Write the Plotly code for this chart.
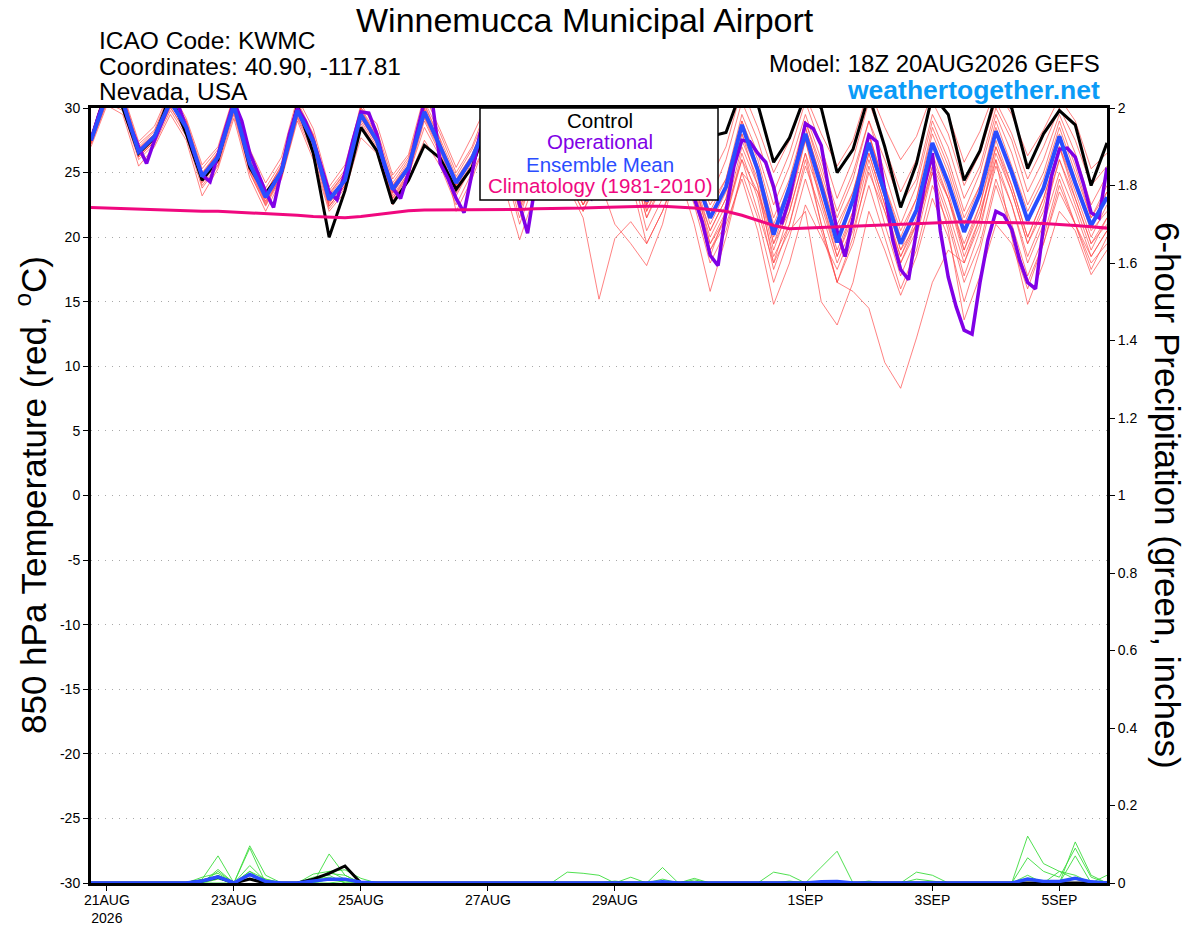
import pandas as pd
import plotly.graph_objects as go

# ---------------- DATA ----------------
start_time = "2026-08-20 18:00"
n_6h = 65
n_3h = 129

tick_dates = ["2026-08-21", "2026-08-23", "2026-08-25", "2026-08-27",
              "2026-08-29", "2026-09-01", "2026-09-03", "2026-09-05"]
tick_labels = ["21AUG<br>2026", "23AUG", "25AUG", "27AUG", "29AUG", "1SEP", "3SEP", "5SEP"]
temp_ticks = [-30, -25, -20, -15, -10, -5, 0, 5, 10, 15, 20, 25, 30]
temp_tick_labels = ["-30", "-25", "-20", "-15", "-10", "-5", "0", "5", "10", "15", "20", "25", "30"]
precip_ticks = [0, 0.2, 0.4, 0.6, 0.8, 1.0, 1.2, 1.4, 1.6, 1.8, 2.0]
precip_tick_labels = ["0", "0.2", "0.4", "0.6", "0.8", "1", "1.2", "1.4", "1.6", "1.8", "2"]

control_t = [27.5, 31.5, 30.0, 26.5, 27.7, 31.0, 28.0, 24.4, 26.0, 30.5,
             25.4, 23.4, 25.0, 30.2, 26.5, 20.0, 23.6, 28.5, 26.7, 22.6,
             24.4, 27.1, 26.1, 23.7, 25.4, 29.0, 27.0, 22.9, 27.0, 29.5,
             27.0, 24.5, 27.0, 29.5, 28.0, 25.5, 27.0, 30.0, 28.5, 27.8,
             28.1, 31.5, 30.3, 25.8, 27.7, 31.0, 30.0, 25.0, 26.8, 31.0,
             27.0, 22.3, 25.7, 31.0, 29.5, 24.4, 26.7, 31.0, 30.0, 25.3,
             28.0, 29.8, 28.7, 24.0, 27.3]

mean_t = [27.5, 31.0, 30.5, 26.6, 27.8, 30.5, 28.5, 24.7, 26.2, 30.2,
          25.7, 23.1, 25.1, 29.8, 27.4, 22.9, 24.4, 29.5, 27.5, 23.7,
          25.4, 29.7, 27.0, 24.2, 26.1, 29.0, 27.0, 23.0, 26.5, 28.5,
          26.0, 23.5, 26.0, 28.5, 27.0, 22.8, 25.5, 28.5, 25.0, 21.5,
          23.9, 28.7, 25.2, 20.2, 23.9, 28.0, 23.9, 19.6, 22.9, 27.3,
          23.4, 19.5, 22.1, 27.3, 24.2, 20.4, 23.4, 28.2, 25.0, 21.3,
          23.8, 27.8, 24.2, 20.9, 23.1]

climo_t = [22.3, 22.25, 22.2, 22.15, 22.1, 22.05, 22.0, 22.0, 22.0, 21.95,
           21.9, 21.85, 21.8, 21.7, 21.6, 21.55, 21.5, 21.6, 21.75, 21.9,
           22.05, 22.1, 22.1, 22.1, 22.1, 22.1, 22.1, 22.15, 22.2, 22.2,
           22.25, 22.25, 22.3, 22.35, 22.4, 22.4, 22.4, 22.35, 22.25, 22.15,
           22.0, 21.7, 21.3, 20.9, 20.65, 20.7, 20.75, 20.8, 20.85, 20.9,
           20.95, 21.0, 21.1, 21.15, 21.2, 21.2, 21.15, 21.15, 21.1, 21.1,
           21.05, 21.0, 20.9, 20.8, 20.7]

# operational run (3-hourly)
oper_t = [27.5, 29.5, 31.0, 31.0, 30.5, 28.5, 27.0, 25.7, 27.5, 29.0,
          30.5, 30.2, 28.5, 26.5, 24.8, 24.3, 26.5, 28.5, 30.5, 29.0,
          26.5, 25.0, 23.5, 22.3, 25.0, 28.0, 30.0, 29.0, 27.5, 25.5,
          23.5, 22.9, 25.0, 27.5, 29.7, 29.6, 28.0, 25.5, 23.8, 23.0,
          25.0, 28.0, 30.5, 30.5, 25.7, 24.5, 23.0, 21.9, 25.0, 28.0,
          30.0, 29.5, 27.5, 25.0, 22.5, 20.3, 24.0, 28.0, 30.2, 29.0,
          27.0, 25.0, 23.5, 23.0, 25.5, 28.5, 30.2, 30.0, 27.5, 25.0,
          23.0, 23.5, 25.5, 28.0, 29.5, 27.0, 23.0, 21.2, 18.6, 17.8,
          22.0, 25.5, 27.5, 27.4, 26.5, 25.8, 23.9, 21.0, 23.0, 26.0,
          28.8, 28.4, 27.1, 23.5, 20.5, 18.5, 21.5, 25.5, 27.9, 27.4,
          23.5, 19.8, 17.5, 16.7, 20.5, 24.0, 26.5, 20.5, 16.9, 14.6,
          12.8, 12.5, 16.5, 19.8, 22.0, 21.7, 20.6, 18.2, 16.5, 16.0,
          20.8, 24.7, 26.8, 26.9, 26.2, 24.2, 21.9, 21.5, 25.4]

ens_t01 = [27.8, 31.8, 31.0, 27.2, 28.3, 31.2, 29.0, 25.3, 26.8, 30.8,
           26.3, 23.8, 25.8, 30.5, 28.0, 23.6, 25.2, 30.3, 28.3, 24.5,
           26.2, 30.5, 28.0, 25.0, 27.0, 30.2, 28.0, 24.3, 27.5, 30.0,
           27.5, 24.5, 27.0, 30.0, 28.5, 24.5, 27.0, 30.5, 28.0, 24.5,
           27.0, 31.5, 28.5, 25.0, 27.5, 31.0, 28.0, 25.5, 27.5, 31.5,
           28.5, 26.0, 27.8, 31.2, 29.5, 25.8, 28.2, 31.5, 29.5, 26.3,
           28.3, 30.8, 29.0, 25.3, 26.5]
ens_t02 = [27.3, 30.6, 30.0, 26.3, 27.5, 30.0, 28.2, 24.3, 25.8, 29.8,
           25.3, 22.7, 24.8, 29.4, 27.0, 22.4, 24.0, 29.0, 27.0, 23.2,
           25.0, 29.2, 26.6, 23.6, 25.8, 28.6, 26.5, 22.5, 26.0, 28.0,
           25.5, 23.0, 25.5, 28.0, 26.5, 22.5, 25.0, 28.0, 25.0, 22.0,
           24.5, 29.5, 26.5, 22.5, 25.5, 29.5, 26.0, 22.0, 25.0, 29.0,
           26.0, 22.5, 24.5, 29.5, 27.0, 23.0, 25.5, 30.0, 27.5, 23.5,
           26.0, 29.5, 26.5, 22.5, 24.8]
ens_t03 = [27.6, 31.2, 30.6, 26.9, 28.0, 30.8, 28.8, 24.9, 26.4, 30.4,
           25.9, 23.4, 25.4, 30.0, 27.6, 23.2, 24.8, 29.8, 27.8, 24.0,
           25.6, 30.0, 27.3, 24.5, 26.4, 29.3, 27.3, 23.4, 26.8, 29.0,
           26.3, 23.8, 26.3, 29.0, 27.3, 23.4, 26.0, 29.0, 26.0, 21.5,
           24.0, 29.0, 25.5, 20.5, 24.0, 28.5, 24.5, 20.5, 23.5, 28.0,
           24.0, 20.0, 23.0, 28.0, 25.0, 21.0, 24.0, 29.0, 25.5, 22.0,
           24.5, 28.5, 25.0, 21.5, 23.5]
ens_t04 = [27.2, 30.4, 29.8, 26.0, 27.2, 29.8, 27.8, 23.8, 25.5, 29.5,
           25.0, 22.4, 24.6, 29.2, 26.4, 22.2, 23.8, 28.8, 26.8, 22.8,
           24.8, 29.0, 26.4, 23.4, 25.5, 28.4, 26.4, 22.2, 25.5, 28.0,
           25.2, 22.5, 25.2, 28.0, 26.0, 21.5, 24.5, 27.5, 24.0, 20.0,
           22.5, 28.0, 24.0, 19.0, 22.5, 27.5, 22.5, 18.5, 21.5, 26.5,
           22.5, 18.5, 21.0, 26.5, 23.0, 19.0, 22.5, 27.5, 24.0, 20.0,
           23.0, 27.0, 23.5, 20.0, 22.5]
ens_t05 = [27.9, 31.5, 31.2, 27.4, 28.6, 31.4, 29.2, 25.6, 27.0, 31.0,
           26.8, 24.2, 26.2, 30.8, 28.4, 23.9, 25.6, 30.0, 28.8, 24.8,
           26.4, 31.0, 28.3, 25.4, 27.8, 30.4, 28.2, 24.0, 27.2, 29.6,
           26.8, 23.5, 26.0, 29.0, 27.5, 22.0, 24.5, 27.0, 24.0, 19.0,
           21.5, 26.5, 23.0, 17.5, 21.0, 26.0, 21.0, 16.5, 20.0, 25.5,
           21.0, 17.0, 20.0, 25.0, 21.5, 17.0, 20.5, 26.0, 22.5, 18.5,
           21.5, 26.0, 22.5, 19.0, 21.5]
ens_t06 = [27.0, 30.2, 29.5, 25.5, 27.0, 29.5, 27.5, 23.2, 25.3, 29.2,
           24.6, 22.0, 24.5, 29.0, 26.0, 22.0, 23.5, 27.7, 26.5, 22.5,
           24.5, 27.5, 25.5, 22.5, 25.0, 27.5, 25.5, 21.0, 24.5, 27.0,
           24.5, 22.0, 24.5, 27.0, 25.5, 20.5, 23.0, 26.0, 22.5, 18.0,
           20.5, 25.0, 21.5, 16.5, 20.0, 24.5, 20.5, 16.5, 19.5, 24.0,
           20.0, 16.0, 19.0, 24.0, 21.0, 16.5, 19.5, 24.5, 21.0, 17.0,
           20.0, 24.5, 21.0, 17.5, 20.0]
ens_t07 = [27.4, 31.0, 30.3, 26.4, 27.6, 30.3, 28.4, 24.6, 26.0, 30.0,
           25.5, 23.0, 25.0, 29.6, 27.2, 22.7, 24.2, 29.3, 27.4, 23.5,
           25.2, 29.5, 27.0, 24.0, 26.0, 29.0, 26.8, 22.8, 26.4, 28.6,
           26.0, 23.2, 25.8, 28.4, 26.6, 22.6, 25.2, 28.0, 24.5, 20.5,
           23.0, 27.5, 24.5, 19.5, 22.0, 26.5, 21.0, 16.5, 15.8, 14.5,
           10.3, 8.3, 12.2, 16.5, 19.0, 18.0, 21.5, 26.5, 23.5, 19.5,
           22.0, 26.0, 23.0, 19.5, 21.0]
ens_t08 = [27.6, 31.4, 30.8, 26.2, 27.4, 30.6, 28.6, 24.0, 25.6, 30.0,
           25.0, 22.5, 24.8, 29.6, 27.0, 22.4, 24.0, 29.5, 27.2, 23.0,
           25.0, 29.8, 27.2, 23.8, 26.0, 29.2, 27.0, 22.8, 26.5, 28.5,
           26.0, 23.0, 26.0, 28.6, 27.0, 22.0, 25.0, 28.0, 24.5, 19.5,
           22.0, 26.0, 22.0, 18.0, 20.5, 22.0, 15.0, 13.2, 16.5, 22.0,
           19.0, 15.5, 18.5, 23.0, 20.0, 15.0, 19.0, 24.0, 20.5, 16.5,
           19.5, 24.0, 21.0, 18.0, 19.5]
ens_t09 = [27.5, 30.8, 30.2, 26.8, 28.0, 30.8, 28.4, 24.8, 26.6, 30.6,
           25.8, 23.2, 25.3, 30.2, 27.8, 23.0, 24.6, 29.6, 27.6, 23.8,
           25.4, 29.8, 27.0, 24.4, 26.4, 29.5, 27.0, 23.5, 26.8, 29.0,
           26.0, 23.5, 26.0, 28.5, 26.5, 22.5, 24.5, 27.5, 23.5, 19.0,
           21.0, 24.5, 20.5, 14.8, 18.0, 22.5, 20.0, 17.5, 20.5, 25.0,
           22.0, 18.5, 21.5, 26.0, 23.0, 19.5, 22.5, 27.0, 23.5, 19.5,
           22.5, 27.0, 24.0, 20.5, 22.0]
ens_t10 = [27.3, 30.8, 30.4, 26.5, 27.7, 30.4, 28.3, 24.5, 26.2, 30.3,
           25.6, 23.0, 25.0, 29.9, 27.5, 22.8, 24.4, 29.4, 27.3, 23.6,
           25.3, 29.6, 26.8, 24.0, 26.0, 28.8, 26.8, 22.2, 26.0, 28.0,
           25.5, 22.5, 25.0, 27.5, 24.5, 19.5, 22.0, 25.0, 21.0, 15.8,
           20.0, 25.0, 23.5, 20.0, 23.5, 28.5, 24.5, 20.0, 23.0, 28.0,
           24.0, 20.5, 23.0, 28.5, 25.5, 21.5, 24.0, 28.5, 25.0, 21.0,
           24.0, 28.0, 24.5, 21.0, 23.5]
ens_t11 = [27.7, 31.3, 30.7, 26.7, 27.9, 30.7, 28.7, 24.8, 26.3, 30.3,
           25.8, 23.3, 25.2, 29.9, 27.4, 23.0, 24.6, 29.7, 27.6, 23.9,
           25.5, 29.9, 27.2, 24.4, 26.2, 29.2, 27.2, 23.4, 26.6, 28.8,
           26.2, 23.8, 26.2, 28.8, 27.2, 23.2, 25.8, 28.8, 25.5, 22.5,
           24.5, 29.0, 26.0, 21.5, 24.5, 29.0, 25.0, 21.0, 23.5, 28.0,
           23.5, 19.0, 21.0, 25.0, 20.5, 13.6, 17.0, 21.0, 19.5, 16.0,
           19.5, 23.5, 21.0, 18.5, 20.5]
ens_t12 = [27.4, 30.9, 30.2, 26.4, 27.6, 30.3, 28.4, 24.6, 26.1, 30.1,
           25.6, 23.0, 25.0, 29.7, 27.3, 22.8, 24.3, 29.2, 27.2, 23.4,
           25.2, 29.3, 26.8, 24.0, 26.0, 28.8, 26.8, 22.6, 26.2, 28.4,
           25.8, 23.2, 25.8, 28.2, 26.8, 22.8, 25.3, 28.3, 25.0, 21.0,
           23.5, 28.0, 25.0, 19.5, 23.0, 27.5, 23.0, 18.5, 22.0, 27.0,
           23.0, 19.0, 22.0, 27.0, 23.5, 19.0, 22.0, 26.0, 20.0, 14.8,
           18.0, 22.0, 20.5, 17.1, 19.0]
ens_t13 = [27.6, 31.1, 30.5, 26.7, 27.9, 30.6, 28.6, 24.9, 26.5, 30.5,
           26.0, 23.5, 25.5, 30.3, 27.9, 23.4, 25.0, 30.0, 28.0, 24.2,
           26.0, 30.3, 27.6, 24.7, 26.8, 29.8, 27.6, 23.8, 27.0, 29.4,
           26.8, 24.2, 26.8, 29.4, 27.8, 24.0, 26.5, 29.5, 27.0, 23.0,
           26.0, 30.5, 27.5, 23.5, 26.5, 30.5, 27.0, 23.0, 26.0, 30.5,
           27.0, 23.5, 26.0, 30.5, 28.0, 24.0, 26.5, 30.5, 28.0, 24.5,
           27.0, 30.0, 27.5, 24.0, 25.5]
ens_t14 = [27.5, 31.1, 30.5, 26.5, 27.7, 30.5, 28.5, 24.6, 26.1, 30.0,
           25.5, 22.8, 24.9, 29.6, 27.2, 22.6, 24.2, 29.2, 27.3, 23.4,
           25.3, 29.4, 26.9, 24.0, 26.0, 29.0, 26.5, 22.0, 25.0, 26.5,
           24.0, 21.5, 15.2, 19.9, 21.2, 19.5, 22.0, 25.5, 23.5, 19.5,
           21.5, 26.0, 23.5, 18.5, 21.0, 25.5, 22.0, 18.0, 21.0, 26.0,
           22.0, 18.0, 20.5, 25.5, 22.0, 18.0, 21.0, 25.5, 22.5, 18.0,
           21.0, 25.0, 22.0, 18.5, 20.5]
ens_t15 = [27.2, 30.5, 30.0, 26.2, 27.4, 30.1, 28.0, 24.2, 25.8, 29.7,
           25.2, 22.6, 24.7, 29.3, 26.8, 22.4, 24.0, 28.5, 26.8, 23.0,
           24.8, 28.5, 26.2, 23.2, 25.5, 28.2, 26.0, 21.5, 25.5, 28.0,
           25.0, 22.5, 24.5, 21.0, 19.5, 17.8, 21.0, 26.0, 23.0, 18.5,
           22.0, 27.0, 24.0, 18.0, 22.0, 26.5, 23.0, 19.0, 22.0, 26.5,
           22.5, 18.0, 21.0, 25.5, 23.0, 18.5, 21.5, 27.0, 24.0, 20.0,
           23.0, 27.0, 23.0, 19.5, 21.5]
ens_t16 = [27.8, 31.6, 31.0, 27.0, 28.2, 31.0, 29.0, 25.0, 26.6, 30.6,
           26.0, 23.4, 25.6, 30.4, 27.8, 23.3, 25.0, 29.9, 27.8, 24.0,
           25.8, 30.2, 27.5, 22.0, 24.5, 27.8, 24.0, 19.8, 23.5, 27.0,
           24.5, 22.0, 25.0, 28.0, 26.0, 21.5, 24.0, 27.5, 24.0, 20.5,
           23.0, 28.5, 25.5, 21.0, 24.0, 29.0, 25.5, 21.5, 24.5, 29.0,
           25.0, 21.0, 24.0, 29.0, 26.0, 22.0, 25.0, 29.5, 26.5, 22.5,
           25.0, 29.0, 25.5, 21.5, 24.0]

# 6-hour precipitation (inches)
control_p = [0, 0, 0, 0, 0, 0, 0, 0.005, 0.015, 0,
             0.01, 0, 0, 0, 0.01, 0.025, 0.044, 0, 0, 0,
             0, 0, 0, 0, 0, 0, 0, 0, 0, 0,
             0, 0, 0, 0, 0, 0, 0, 0, 0, 0,
             0, 0, 0, 0, 0, 0, 0, 0, 0, 0,
             0, 0, 0, 0, 0, 0, 0, 0, 0, 0,
             0, 0, 0, 0, 0]
mean_p = [0, 0, 0, 0, 0, 0, 0, 0.005, 0.016, 0,
          0.022, 0.004, 0, 0, 0.005, 0.01, 0.01, 0.002, 0, 0,
          0, 0, 0, 0, 0, 0, 0, 0, 0, 0,
          0.002, 0.002, 0, 0, 0, 0, 0.003, 0, 0, 0,
          0, 0, 0, 0.002, 0, 0, 0.003, 0.004, 0, 0,
          0, 0, 0.002, 0, 0, 0, 0, 0, 0, 0.01,
          0.004, 0.004, 0.012, 0.003, 0]
ens_p01 = [0, 0, 0, 0, 0, 0, 0, 0.01, 0.07, 0,
           0.03, 0.01, 0, 0, 0, 0.075, 0.02, 0, 0, 0,
           0, 0, 0, 0, 0, 0, 0, 0, 0, 0,
           0, 0, 0, 0, 0, 0, 0.04, 0, 0, 0,
           0, 0, 0, 0, 0, 0, 0.041, 0.082, 0, 0,
           0, 0, 0, 0, 0, 0, 0, 0, 0, 0.121,
           0.05, 0.03, 0.02, 0, 0]
ens_p02 = [0, 0, 0, 0, 0, 0, 0, 0, 0.035, 0,
           0.096, 0.02, 0, 0, 0.023, 0.03, 0.034, 0.012, 0, 0,
           0, 0, 0, 0, 0, 0, 0, 0, 0, 0,
           0.028, 0.025, 0.02, 0, 0, 0, 0, 0, 0, 0,
           0, 0, 0, 0, 0, 0, 0, 0, 0, 0,
           0, 0, 0, 0, 0, 0, 0, 0, 0, 0,
           0, 0, 0.106, 0.02, 0]
ens_p03 = [0, 0, 0, 0, 0, 0, 0, 0, 0.03, 0,
           0.09, 0, 0, 0, 0, 0.025, 0.02, 0, 0, 0,
           0, 0, 0, 0, 0, 0, 0, 0, 0, 0,
           0, 0, 0, 0, 0.015, 0, 0, 0, 0, 0,
           0, 0, 0, 0.028, 0.02, 0, 0, 0, 0, 0,
           0, 0, 0, 0, 0, 0, 0, 0, 0, 0.065,
           0.03, 0.015, 0.09, 0.015, 0]
ens_p04 = [0, 0, 0, 0, 0, 0, 0, 0.015, 0.025, 0,
           0.045, 0.005, 0, 0, 0.015, 0.02, 0, 0, 0, 0,
           0, 0, 0, 0, 0, 0, 0, 0, 0, 0,
           0, 0, 0, 0, 0, 0, 0, 0, 0, 0,
           0, 0, 0, 0, 0, 0, 0, 0, 0, 0,
           0, 0, 0.028, 0.02, 0, 0, 0, 0, 0, 0,
           0, 0, 0.07, 0, 0.02]
ens_p05 = [0, 0, 0, 0, 0, 0, 0, 0, 0.02, 0,
           0.02, 0, 0, 0, 0, 0.03, 0.01, 0, 0, 0,
           0, 0, 0, 0, 0, 0, 0, 0, 0, 0,
           0, 0, 0, 0, 0, 0, 0.01, 0, 0.012, 0,
           0, 0, 0, 0, 0, 0, 0, 0, 0, 0,
           0, 0, 0, 0, 0, 0, 0, 0, 0, 0,
           0, 0.03, 0.01, 0, 0]
ens_p06 = [0, 0, 0, 0, 0, 0, 0, 0.005, 0.012, 0,
           0.03, 0, 0, 0, 0.01, 0.015, 0, 0, 0, 0,
           0, 0, 0, 0, 0, 0, 0, 0, 0, 0,
           0, 0, 0, 0, 0, 0, 0, 0, 0, 0,
           0, 0, 0, 0, 0, 0, 0, 0, 0, 0,
           0, 0, 0.01, 0.005, 0, 0, 0, 0, 0, 0.02,
           0, 0, 0, 0, 0]
ens_p07 = [0, 0, 0, 0, 0, 0, 0, 0, 0.01, 0,
           0.01, 0, 0, 0, 0, 0.01, 0.01, 0, 0, 0,
           0, 0, 0, 0, 0, 0, 0, 0, 0, 0,
           0, 0, 0, 0, 0, 0, 0, 0, 0.008, 0,
           0, 0, 0, 0, 0.005, 0, 0, 0, 0, 0,
           0, 0, 0, 0, 0, 0, 0, 0, 0, 0,
           0, 0, 0, 0, 0]
ens_p08 = [0, 0, 0, 0, 0, 0, 0, 0, 0, 0,
           0.02, 0.01, 0, 0, 0, 0, 0.005, 0, 0, 0,
           0, 0, 0, 0, 0, 0, 0, 0, 0, 0,
           0, 0, 0, 0.005, 0, 0, 0, 0, 0, 0,
           0, 0, 0, 0, 0, 0, 0, 0, 0, 0.005,
           0, 0, 0, 0, 0, 0, 0, 0, 0, 0,
           0, 0, 0, 0, 0]

ens_t = [ens_t01, ens_t02, ens_t03, ens_t04, ens_t05, ens_t06, ens_t07, ens_t08,
         ens_t09, ens_t10, ens_t11, ens_t12, ens_t13, ens_t14, ens_t15, ens_t16]
ens_p = [ens_p01, ens_p02, ens_p03, ens_p04, ens_p05, ens_p06, ens_p07, ens_p08]

# ---------------- FIGURE ----------------
t6 = pd.date_range(start_time, periods=n_6h, freq="6h")
t3 = pd.date_range(start_time, periods=n_3h, freq="3h")

FONT = "Liberation Sans, Arial, Helvetica, sans-serif"
RED = "rgba(255,70,70,0.85)"
GREEN = "#3cdc3c"
BLACK = "#000000"
PURPLE = "#8000e6"
BLUE = "#2a4dff"
PINK = "#f0087f"

fig = go.Figure()

for m in ens_t:
    fig.add_trace(go.Scatter(x=t6, y=m, mode="lines", line=dict(color=RED, width=0.8),
                             showlegend=False, hoverinfo="skip"))
for m in ens_p:
    fig.add_trace(go.Scatter(x=t6, y=m, mode="lines", yaxis="y2",
                             line=dict(color=GREEN, width=0.9),
                             showlegend=False, hoverinfo="skip"))

fig.add_trace(go.Scatter(x=t6, y=control_p, mode="lines", yaxis="y2",
                         line=dict(color=BLACK, width=3), showlegend=False))
fig.add_trace(go.Scatter(x=t6, y=mean_p, mode="lines", yaxis="y2",
                         line=dict(color=BLUE, width=3.5), showlegend=False))

fig.add_trace(go.Scatter(x=t6, y=control_t, mode="lines", line=dict(color=BLACK, width=3),
                         name="Control", showlegend=False))
fig.add_trace(go.Scatter(x=t3, y=oper_t, mode="lines", line=dict(color=PURPLE, width=3.5),
                         name="Operational", showlegend=False))
fig.add_trace(go.Scatter(x=t6, y=mean_t, mode="lines", line=dict(color=BLUE, width=4),
                         name="Ensemble Mean", showlegend=False))
fig.add_trace(go.Scatter(x=t6, y=climo_t, mode="lines", line=dict(color=PINK, width=3),
                         name="Climatology (1981-2010)", showlegend=False))

W, H = 1200, 927
L, R, T, B = 91, 93, 108, 44


def px(xp):
    return (xp - L) / (W - L - R)


def py(yp):
    return (H - B - yp) / (H - T - B)


fig.update_layout(
    width=W, height=H,
    margin=dict(l=L, r=R, t=T, b=B, pad=0),
    paper_bgcolor="white", plot_bgcolor="white",
    font=dict(family=FONT, color="black", size=14),
    showlegend=False,
    xaxis=dict(
        type="date",
        range=[t6[0], t6[-1]],
        tickvals=pd.to_datetime(tick_dates), ticktext=tick_labels,
        ticks="outside", ticklen=5, tickwidth=1, tickcolor="black",
        ticklabelstandoff=-3,
        showgrid=False, zeroline=False,
        showline=True, linecolor="black", linewidth=3, mirror=True,
        tickfont=dict(size=14, family=FONT), automargin=False,
    ),
    yaxis=dict(
        range=[-30, 30], tickvals=temp_ticks, ticktext=temp_tick_labels,
        ticks="outside", ticklen=5, tickwidth=1, tickcolor="black",
        showgrid=True, gridcolor="#a8a8a8", griddash="1px,6px", gridwidth=1.3,
        zeroline=False, showline=True, linecolor="black", linewidth=3,
        tickfont=dict(size=14, family=FONT), automargin=False,
    ),
    yaxis2=dict(
        range=[0, 2], tickvals=precip_ticks, ticktext=precip_tick_labels,
        overlaying="y", side="right",
        ticks="outside", ticklen=5, tickwidth=1, tickcolor="black",
        showgrid=False, zeroline=False, showline=True, linecolor="black", linewidth=3,
        tickfont=dict(size=14, family=FONT), automargin=False,
    ),
)

ann = []
ann.append(dict(text="Winnemucca Municipal Airport", x=px(585), y=py(20), xref="paper", yref="paper",
                xanchor="center", yanchor="middle", showarrow=False, font=dict(size=34, family=FONT)))
for txt, yy in [("ICAO Code: KWMC", 40), ("Coordinates: 40.90, -117.81", 66), ("Nevada, USA", 92)]:
    ann.append(dict(text=txt, x=px(97), y=py(yy), xref="paper", yref="paper", xanchor="left",
                    yanchor="middle", showarrow=False, font=dict(size=24.5, family=FONT)))
ann.append(dict(text="Model: 18Z 20AUG2026 GEFS", x=px(1102), y=py(64), xref="paper", yref="paper",
                xanchor="right", yanchor="middle", showarrow=False, font=dict(size=24, family=FONT)))
ann.append(dict(text="<b>weathertogether.net</b>", x=px(1102), y=py(90), xref="paper", yref="paper",
                xanchor="right", yanchor="middle", showarrow=False,
                font=dict(size=26.5, family=FONT, color="#0a9bf7")))
ann.append(dict(text="850 hPa Temperature (red, <sup>o</sup>C)", x=px(31), y=py(495), xref="paper",
                yref="paper", xanchor="center", yanchor="middle", textangle=-90, showarrow=False,
                font=dict(size=35, family=FONT)))
ann.append(dict(text="6-hour Precipitation (green, inches)", x=px(1168), y=py(495), xref="paper",
                yref="paper", xanchor="center", yanchor="middle", textangle=90, showarrow=False,
                font=dict(size=35, family=FONT)))
for txt, col, yy in [("Control", BLACK, 121), ("Operational", PURPLE, 142),
                     ("Ensemble Mean", BLUE, 164), ("Climatology (1981-2010)", PINK, 186)]:
    ann.append(dict(text=txt, x=px(600), y=py(yy), xref="paper", yref="paper", xanchor="center",
                    yanchor="middle", showarrow=False, font=dict(size=20.5, family=FONT, color=col)))
fig.update_layout(annotations=ann)

fig.add_shape(type="rect", xref="paper", yref="paper", x0=px(480), x1=px(718), y0=py(200), y1=py(108),
              fillcolor="white", line=dict(color="black", width=1.5), layer="above")

fig.write_html("out.html", config={"displayModeBar": False},
               post_script="document.body.style.margin='0px';document.body.style.overflow='hidden';")
